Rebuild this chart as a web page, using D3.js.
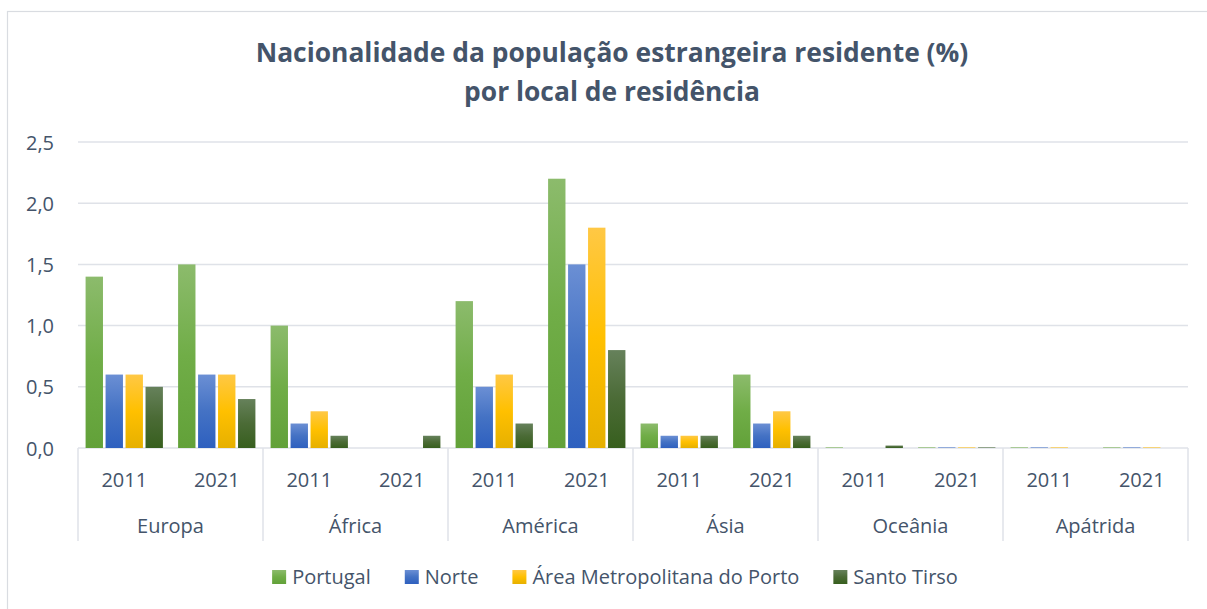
<!DOCTYPE html>
<html>
<head>
<meta charset="utf-8">
<script src="https://cdn.jsdelivr.net/npm/d3@7"></script>
<style>
  body { margin: 0; background: #fff; }
  text { font-family: "Open Sans", sans-serif; fill: #44546a; }
</style>
</head>
<body>
<script>
var width = 1207, height = 609;

// dados
var regioes = ["Europa", "África", "América", "Ásia", "Oceânia", "Apátrida"];
var anos = ["2011", "2021"];
var series = ["Portugal", "Norte", "Área Metropolitana do Porto", "Santo Tirso"];
// um valor por (regiao, ano), na ordem das series
var portugal   = [1.4, 1.5, 1.0, 0,   1.2, 2.2, 0.2, 0.6, 0.005, 0.005, 0.005, 0.005];
var norte      = [0.6, 0.6, 0.2, 0,   0.5, 1.5, 0.1, 0.2, 0,     0.005, 0.005, 0.005];
var amp        = [0.6, 0.6, 0.3, 0,   0.6, 1.8, 0.1, 0.3, 0,     0.005, 0.005, 0.005];
var santoTirso = [0.5, 0.4, 0.1, 0.1, 0.2, 0.8, 0.1, 0.1, 0.02,  0.005, 0,     0];
var yTicks = [0, 0.5, 1.0, 1.5, 2.0, 2.5];

// cores: topo claro, meio, fundo escuro (gradiente estilo Office)
var cores = [
  ["#8cbb6c", "#70ad47", "#62a139"],
  ["#6b8fd4", "#4472c4", "#2e60bf"],
  ["#ffc845", "#ffc000", "#e6b000"],
  ["#66815b", "#4b6b36", "#375f1e"]
];

var valores = [portugal, norte, amp, santoTirso];
var categorias = [];
regioes.forEach(function (r) {
  anos.forEach(function (a) { categorias.push(r + "|" + a); });
});

var margin = { left: 78, right: 1188, top: 142, bottom: 448 };

var svg = d3.select("body").append("svg")
  .attr("width", width)
  .attr("height", height);

// borda do grafico
svg.append("rect")
  .attr("x", 7.5).attr("y", 11.5)
  .attr("width", width).attr("height", height)
  .attr("fill", "none").attr("stroke", "#d9dce1").attr("stroke-width", 1.2);

var defs = svg.append("defs");
cores.forEach(function (c, i) {
  var g = defs.append("linearGradient")
    .attr("id", "grad" + i)
    .attr("x1", 0).attr("y1", 0).attr("x2", 0).attr("y2", 1);
  g.append("stop").attr("offset", "0%").attr("stop-color", c[0]);
  g.append("stop").attr("offset", "50%").attr("stop-color", c[1]);
  g.append("stop").attr("offset", "100%").attr("stop-color", c[2]);
});

var x = d3.scaleBand().domain(categorias).range([margin.left, margin.right]).padding(0);
var xSub = d3.scaleBand().domain(d3.range(series.length))
  .range([0, x.bandwidth()]).paddingInner(0.13).paddingOuter(0.38);
var y = d3.scaleLinear().domain([0, 2.5]).range([margin.bottom, margin.top]);

// grelha
svg.append("g").selectAll("line")
  .data(yTicks)
  .join("line")
  .attr("x1", margin.left).attr("x2", margin.right)
  .attr("y1", function (d) { return y(d); })
  .attr("y2", function (d) { return y(d); })
  .attr("stroke", "#dfe2e8").attr("stroke-width", 1.5);

// eixo y
var yAxis = svg.append("g")
  .attr("transform", "translate(" + (margin.left - 24) + ",0)")
  .call(d3.axisLeft(y).tickValues(yTicks).tickSize(0).tickPadding(0)
    .tickFormat(function (d) { return d3.format(".1f")(d).replace(".", ","); }));
yAxis.select(".domain").remove();
yAxis.selectAll("text").attr("font-size", 20).attr("fill", "#44546a")
  .attr("font-family", "Open Sans").attr("dy", "0.35em");

// barras
var barras = svg.append("g");
categorias.forEach(function (cat, ci) {
  series.forEach(function (s, si) {
    var v = valores[si][ci];
    if (!v) return;
    barras.append("rect")
      .attr("x", x(cat) + xSub(si))
      .attr("width", xSub.bandwidth())
      .attr("y", y(v))
      .attr("height", y(0) - y(v))
      .attr("fill", "url(#grad" + si + ")");
  });
});

// eixo x: anos
svg.append("g").selectAll("text")
  .data(categorias)
  .join("text")
  .attr("x", function (d) { return x(d) + x.bandwidth() / 2; })
  .attr("y", 487)
  .attr("text-anchor", "middle")
  .attr("font-size", 20)
  .text(function (d) { return d.split("|")[1]; });

// eixo x: regioes
var regW = x.bandwidth() * anos.length;
svg.append("g").selectAll("text")
  .data(regioes)
  .join("text")
  .attr("x", function (d) { return x(d + "|" + anos[0]) + regW / 2; })
  .attr("y", 533)
  .attr("text-anchor", "middle")
  .attr("font-size", 20)
  .text(function (d) { return d; });

// separadores
var seps = regioes.map(function (r) { return x(r + "|" + anos[0]); }).concat([margin.right]);
svg.append("g").selectAll("line")
  .data(seps)
  .join("line")
  .attr("x1", function (d) { return d; }).attr("x2", function (d) { return d; })
  .attr("y1", margin.bottom).attr("y2", 541)
  .attr("stroke", "#dfe2e8").attr("stroke-width", 1.5);

// titulo
var titulo = ["Nacionalidade da população estrangeira residente (%)", "por local de residência"];
var t = svg.append("text")
  .attr("x", 612).attr("y", 62)
  .attr("text-anchor", "middle")
  .attr("font-weight", "bold")
  .attr("font-size", 26)
  .text(titulo[0]);
// ajustar ao tamanho do original
var w = t.node().getComputedTextLength();
var fs = 26 * 713 / w;
t.attr("font-size", fs);
svg.append("text")
  .attr("x", 612).attr("y", 101)
  .attr("text-anchor", "middle")
  .attr("font-weight", "bold")
  .attr("font-size", fs)
  .text(titulo[1]);

// legenda
var leg = svg.append("g");
var lx = 0;
series.forEach(function (s, i) {
  var item = leg.append("g").attr("transform", "translate(" + lx + ",0)");
  item.append("rect").attr("x", 0).attr("y", -14).attr("width", 14).attr("height", 14)
    .attr("fill", "url(#grad" + i + ")");
  var tx = item.append("text").attr("x", 20).attr("y", 0).attr("font-size", 20).text(s);
  lx += 20 + tx.node().getComputedTextLength() + 34;
});
lx -= 34;
leg.attr("transform", "translate(" + (615 - lx / 2) + ",584)");
</script>
</body>
</html>
